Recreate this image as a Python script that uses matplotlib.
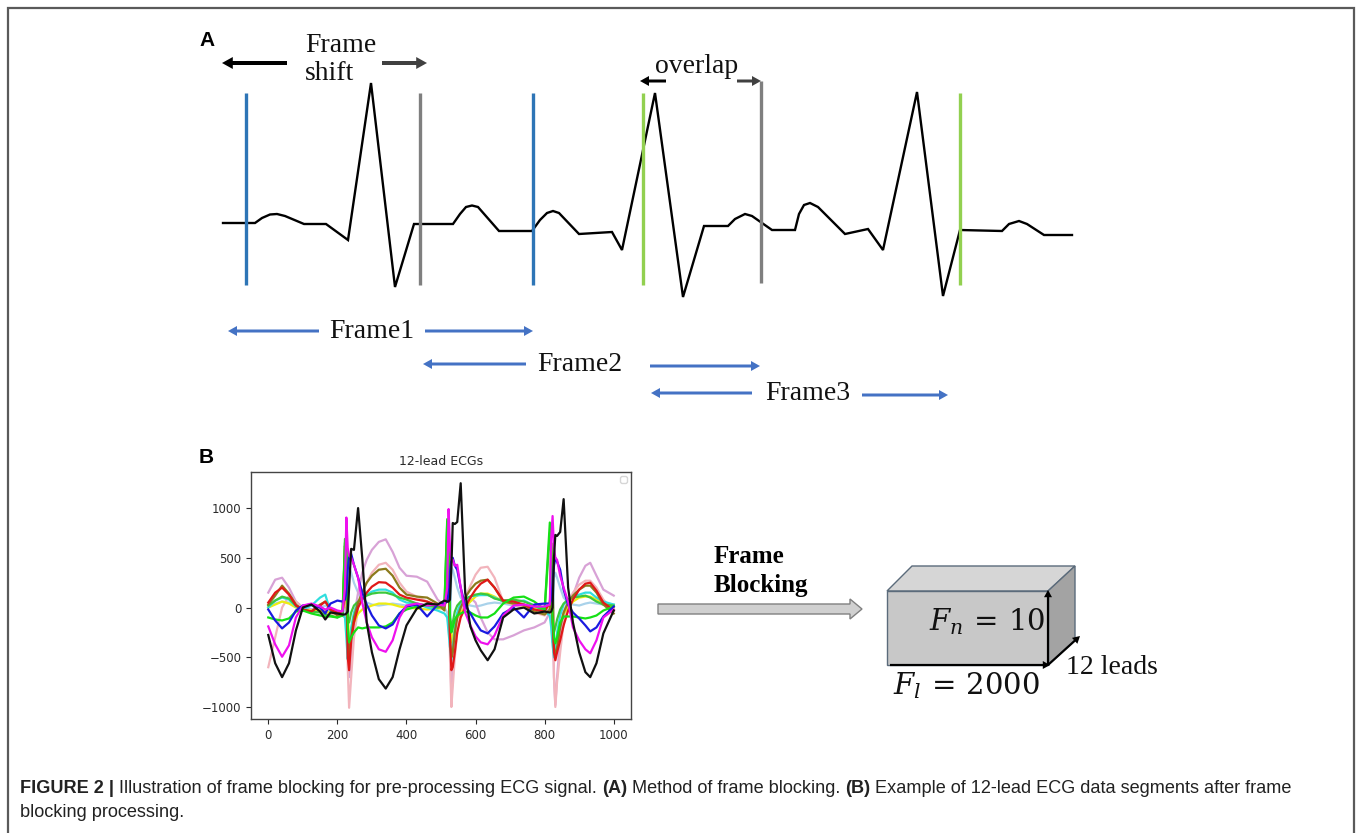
import numpy as np
import matplotlib
matplotlib.use("Agg")
import matplotlib.pyplot as plt
from matplotlib.patches import FancyArrow, Polygon
from matplotlib import font_manager as fm

# ------------------------------ Data ------------------------------

# panel A: schematic ECG trace (pixel positions)
wave_x = [223, 255, 262, 270, 277, 285, 304, 326, 348, 371, 395, 414, 453, 460, 466, 472, 478, 499,
          532, 540, 547, 553, 559, 579, 612, 622, 655, 683, 704, 728, 735, 745, 752, 772, 795, 799,
          804, 810, 818, 845, 868, 883, 917, 943, 960, 1002, 1009, 1019, 1027, 1044, 1072]
wave_y = [223, 223, 218, 214.5, 214, 216, 224, 224, 240, 83, 287, 224, 224, 214, 207, 205.5, 207, 231,
          231, 220, 213, 211, 213, 234, 232, 250, 93, 297, 226, 226, 219, 214, 216, 230, 230, 214,
          205, 203, 207, 234, 229, 250, 92, 296, 230, 231, 224, 221, 224, 235, 235]

# vertical frame markers: x, top, bottom, colour
markers = [(246, 93, 285, '#2e75b6'), (420, 93, 285, '#7f7f7f'), (533, 93, 285, '#2e75b6'),
           (643, 93, 285, '#92d050'), (761, 81, 283, '#7f7f7f'), (960, 93, 285, '#92d050')]

frame_labels = ['Frame1', 'Frame2', 'Frame3']

# panel B: 12-lead ECG samples
x_grid = [0, 20, 40, 60, 80, 100, 125, 150, 165, 180, 200, 215,
          222, 226, 230, 234, 240, 248, 260, 272,
          285, 300, 320, 340, 360, 380, 400, 430, 460, 490,
          510, 518, 522, 526, 530, 534, 540, 547, 557, 570,
          585, 600, 615, 635, 655, 680, 710, 740, 770, 800,
          815, 819, 823, 827, 831, 836, 845, 855, 868, 882,
          900, 918, 932, 950, 970, 1000]

lead_black = [-276, -560, -700, -560, -230, 0, 30, -40, -120, -50, -60, -70,
              -70, -60, -40, 200, 590, 580, 1000, 500,
              -150, -450, -720, -815, -700, -420, -180, -10, 40, 30,
              70, 60, 60, 80, 400, 850, 840, 860, 1250, 150,
              -190, -330, -430, -530, -420, -100, -20, 0, -60, -40,
              -50, -40, 0, 500, 730, 720, 760, 1090, 200, -150,
              -450, -650, -700, -560, -260, -30]
lead_blue = [-20, -130, -210, -150, -30, 20, 30, 0, -60, 40, 70, 60,
             80, 150, 380, 520, 540, 430, 300, 150,
             30, -80, -180, -210, -170, -60, 10, 30, -90, 30,
             40, 60, 150, 350, 480, 500, 420, 380, 200, 20,
             -60, -150, -230, -260, -190, -60, 0, -100, 30, 40,
             40, 80, 250, 420, 500, 460, 380, 180, 30, -50,
             -110, -180, -240, -200, -90, 10]
lead_red = [50, 150, 200, 130, 20, -20, -40, 20, 60, -20, -50, -60,
            150, 300, -500, -630, -330, -150, 0, 80,
            150, 210, 255, 250, 200, 130, 100, 80, 60, 20,
            30, 100, 300, -300, -630, -600, -450, -250, -100, 0,
            100, 180, 240, 280, 200, 70, 60, 30, -20, -40,
            50, 200, -100, -450, -530, -450, -330, -180, -30, 80,
            180, 240, 250, 170, 50, -30]
lead_magenta = [-190, -370, -495, -380, -100, 20, 40, 10, -20, 0, -30, -40,
                200, 905, 600, 520, 500, 430, 300, 50,
                -150, -300, -420, -445, -330, -100, 20, 40, 20, 30,
                20, 200, 990, 600, 480, 480, 420, 430, 200, -50,
                -180, -290, -350, -370, -280, -80, 20, 30, 10, 10,
                30, 700, 920, 600, 500, 480, 320, 200, 60, -200,
                -330, -420, -460, -330, -100, -20]
lead_lime = [-100, -120, -130, -110, -40, -30, -60, -80, -90, -90, -100, -80,
             650, 700, -200, -350, -300, -250, -200, -210,
             -200, -200, -200, -190, -150, -60, -20, 10, 30, 20,
             30, 889, 500, -100, -250, -200, -120, -80, -60, -40,
             -50, -80, -100, -100, -60, 40, 100, 110, 60, -20,
             855, 600, -100, -300, -360, -300, -150, -90, -90, -90,
             -100, -110, -100, -80, -30, 10]
lead_green = [20, 70, 110, 90, 20, -20, -40, -50, -70, -80, -100, -60,
              690, 650, -100, -150, -50, 20, 60, 90,
              120, 140, 150, 150, 130, 100, 80, 40, 20, 0,
              10, 860, 700, -100, -200, -150, -40, 20, 60, 90,
              110, 130, 140, 130, 90, 70, 80, 60, 20, -30,
              750, 550, -150, -250, -200, -120, -20, 40, 80, 100,
              110, 120, 100, 60, 30, 20]
lead_yellow = [0, 30, 60, 40, 0, -20, -30, -30, -40, -50, -60, -50,
               100, 200, -100, -300, -250, -150, -60, -20,
               0, 20, 40, 40, 30, 10, 0, -10, -20, -10,
               0, 100, 150, -150, -350, -300, -180, -100, -50, 0,
               60, 110, 140, 140, 110, 60, 40, 20, -10, -20,
               30, 150, -100, -300, -360, -280, -150, -60, 0, 60,
               100, 110, 110, 80, 40, 0]
lead_cyan = [0, 70, 100, 80, 10, -20, 20, 100, 130, -40, -60, -80,
             -100, -300, -520, -400, -200, -50, 50, 100,
             130, 160, 180, 180, 150, 80, 50, 40, 0, -30,
             -60, -100, -250, -400, -530, -400, -200, -50, 50, 90,
             110, 120, 125, 125, 100, 60, 60, 70, 20, -40,
             -80, -200, -380, -500, -400, -250, -80, 30, 80, 110,
             130, 150, 150, 100, 60, 30]
lead_olive = [30, 120, 220, 140, 30, -30, -40, 30, 60, -20, -80, -80,
              620, 450, -300, -500, -300, -100, 50, 150,
              250, 320, 380, 390, 320, 200, 130, 110, 100, 40,
              -30, 700, 500, -300, -500, -450, -250, -100, 0, 100,
              180, 240, 270, 280, 200, 60, 40, 30, -40, -70,
              -20, 650, 300, -400, -500, -400, -200, -50, 50, 120,
              180, 220, 220, 150, 30, -60]
lead_pink = [-600, -300, 0, 120, 60, 0, -40, -30, -50, -60, -70, -80,
             500, 300, -600, -1008, -700, -300, 0, 150,
             250, 350, 430, 450, 380, 250, 160, 110, 60, 0,
             -20, 300, 400, -500, -1000, -800, -500, -250, -50, 100,
             220, 330, 400, 410, 300, 60, 30, 0, -50, -80,
             -20, 500, 200, -700, -1000, -750, -450, -150, 50, 150,
             230, 270, 270, 200, 80, -30]
lead_plum = [150, 280, 300, 200, 60, 0, -20, -10, -30, -40, -50, -50,
             300, 200, -400, -700, -500, -100, 150, 350,
             480, 580, 660, 686, 560, 400, 320, 310, 260, 80,
             20, 300, 500, -300, -900, -700, -300, -100, 0, 50,
             100, 50, -100, -250, -320, -320, -280, -230, -200, -150,
             -50, 300, 100, -700, -980, -700, -300, -50, 80, 120,
             300, 420, 450, 320, 180, 120]
lead_lightblue = [0, 40, 60, 50, 20, 0, -20, 0, 20, -20, -40, -40,
                  0, -200, -400, 400, 350, 250, 150, 80,
                  50, 30, 20, 30, 40, 30, 20, 30, 20, 0,
                  0, -50, -200, -400, 400, 380, 300, 200, 100, 40,
                  20, 10, 20, 40, 50, 40, 20, 10, 0, -20,
                  -20, -150, -350, 300, 350, 300, 200, 100, 50, 30,
                  20, 40, 50, 40, 30, 30]

leads = [lead_lightblue, lead_plum, lead_pink, lead_yellow, lead_cyan, lead_green,
         lead_olive, lead_red, lead_lime, lead_blue, lead_magenta, lead_black]
lead_colors = ['#a9d2ea', '#d8a2d6', '#f2b4bc', '#eded10', '#30dede', '#3cc83c',
               '#8c7a1c', '#e01818', '#16e016', '#1a1ae0', '#ee10ee', '#111111']

# ------------------------------ Figure ------------------------------

W, H = 1358, 833
fig = plt.figure(figsize=(W / 100, H / 100), dpi=100)
ax = fig.add_axes([0, 0, 1, 1])
ax.set_xlim(0, W)
ax.set_ylim(H, 0)
ax.axis('off')

serif = 'Liberation Serif'
sans = 'Liberation Sans'

# outer frame
ax.plot([8, 8, 1354, 1354], [H, 8, 8, H], color='#5a5a5a', lw=1.6, solid_joinstyle='miter')

# ------------------------------ Panel A ------------------------------
ax.text(199, 46, 'A', fontsize=15, fontweight='bold', family=sans, va='baseline')

ax.plot(wave_x, wave_y, color='black', lw=1.7, solid_joinstyle='miter')
for x, y0, y1, c in markers:
    ax.plot([x, x], [y0, y1], color=c, lw=2.4, solid_capstyle='butt')


def arrow(x0, y, x1, color, width=3.5, head=11, y1=None):
    y1 = y if y1 is None else y1
    ax.add_patch(FancyArrow(x0, y, x1 - x0, y1 - y, width=width, head_width=head,
                            head_length=head * 0.9, length_includes_head=True,
                            color=color, lw=0))


ax.text(305, 52, 'Frame', fontsize=20, family=serif, va='baseline', color='#111111')
ax.text(305, 80, 'shift', fontsize=20, family=serif, va='baseline', color='#111111')
arrow(287, 63, 222, 'black', width=4, head=12)
arrow(382, 63, 427, '#404040', width=4, head=12)

ax.text(655, 73, 'overlap', fontsize=20, family=serif, va='baseline', color='#111111')
arrow(666, 81, 640, 'black', width=3, head=10)
arrow(737, 81, 761, '#404040', width=3, head=10)

blue = '#4472c4'
frame_rows = [(331, 228, 319, 425, 533, 372),
              (364, 423, 526, 650, 760, 580),
              (393, 651, 752, 862, 948, 808)]
for label, (y, hl, tl, tr, hr, xc) in zip(frame_labels, frame_rows):
    arrow(tl, y, hl, blue, width=3, head=10)
    arrow(tr, y + (2 if label != 'Frame1' else 0), hr, blue, width=3, head=10)
    ax.text(xc, y, label, fontsize=20, family=serif, ha='center', va='center', color='#111111')

# ------------------------------ Panel B ------------------------------
ax.text(199, 463, 'B', fontsize=15, fontweight='bold', family=sans, va='baseline')

ax_ecg = fig.add_axes([251 / W, 1 - 719 / H, (631 - 251) / W, (719 - 472) / H])
for vals, c in zip(leads, lead_colors):
    ax_ecg.plot(x_grid, vals, color=c, lw=1.6)
ax_ecg.set_xticks([0, 200, 400, 600, 800, 1000])
ax_ecg.set_yticks([-1000, -500, 0, 500, 1000])
ax_ecg.tick_params(labelsize=8.5, colors='#2a2a2a', length=3.5, width=0.8)
ax_ecg.set_title('12-lead ECGs', fontsize=9, color='#2a2a2a', pad=5)
for sp in ax_ecg.spines.values():
    sp.set_color('#444444')
    sp.set_linewidth(1.0)
leg = ax_ecg.legend(handles=[], loc='upper right', fontsize=6)

# frame blocking arrow and label
ax.add_patch(FancyArrow(658, 609, 204, 0, width=10, head_width=20, head_length=12,
                        length_includes_head=True, fc='#d0d0d0', ec='#808080', lw=1))
ax.text(714, 563, 'Frame', fontsize=18, fontweight='bold', family=serif, va='baseline')
ax.text(714, 592, 'Blocking', fontsize=18, fontweight='bold', family=serif, va='baseline')

# block
edge = '#5b6b7b'
ax.add_patch(Polygon([(887, 591), (912, 566), (1075, 566), (1048, 591)], closed=True,
                     fc='#d6d6d6', ec=edge, lw=1))
ax.add_patch(Polygon([(1048, 591), (1075, 566), (1075, 640), (1048, 665)], closed=True,
                     fc='#a3a3a3', ec=edge, lw=1))
ax.add_patch(Polygon([(887, 591), (1048, 591), (1048, 665), (887, 665)], closed=True,
                     fc='#c8c8c8', ec=edge, lw=1))
arrow(890, 665, 1050, 'black', width=2.2, head=8)
arrow(1048, 665, 1048, 'black', width=2.2, head=8, y1=590)
arrow(1048, 665, 1080, 'black', width=2.2, head=8, y1=636)

plt.rcParams['mathtext.fontset'] = 'dejavuserif'
ax.text(1045, 622, r'$F_n\,=\,10$', fontsize=21, ha='right', va='center', color='#111111')
ax.text(1040, 686, r'$F_l\,=\,2000$', fontsize=21, ha='right', va='center', color='#111111')
ax.text(1066, 668, '12 leads', fontsize=20, family=serif, va='center', color='#111111')

# ------------------------------ Caption ------------------------------
names = {f.name for f in fm.fontManager.ttflist}
cap_family = 'Liberation Sans Narrow' if 'Liberation Sans Narrow' in names else sans

line1 = [('FIGURE 2 |', True), (' Illustration of frame blocking for pre-processing ECG signal. ', False),
         ('(A)', True), (' Method of frame blocking. ', False), ('(B)', True),
         (' Example of 12-lead ECG data segments after frame', False)]
line2 = [('blocking processing.', False)]

renderer = fig.canvas.get_renderer()


def measure(segments, fs):
    total = 0
    for s, b in segments:
        t = ax.text(0, 0, s, fontsize=fs, family=cap_family,
                    fontweight='bold' if b else 'normal')
        total += t.get_window_extent(renderer).width
        t.remove()
    return total


cap_fs = 13 * 1272 / measure(line1, 13)


def write(segments, x, y):
    for s, b in segments:
        t = ax.text(x, y, s, fontsize=cap_fs, family=cap_family, va='baseline',
                    fontweight='bold' if b else 'normal', color='#222222')
        x += t.get_window_extent(renderer).width


write(line1, 20, 793)
write(line2, 20, 817)

fig.savefig('out.png', dpi=100)
